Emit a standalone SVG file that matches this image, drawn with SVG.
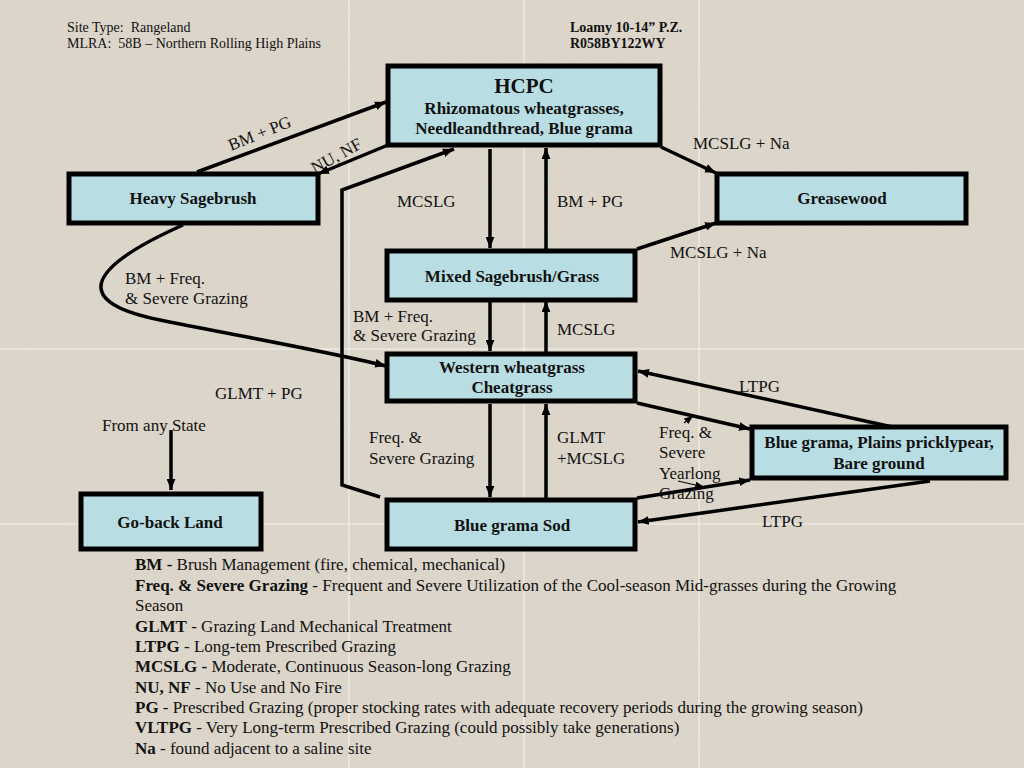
<svg xmlns="http://www.w3.org/2000/svg" width="1024" height="768" viewBox="0 0 1024 768">
<defs>
<style>
.bg{fill:#ddd6cb}
.grid{stroke:#ffffff;stroke-width:1;opacity:0.7}
.box{fill:#b8dee3;stroke:#000;stroke-width:5}
.bt{font-family:"Liberation Serif","Times New Roman",serif;font-weight:bold;font-size:17px;fill:#111;text-anchor:middle}
.lbl{font-family:"Liberation Serif","Times New Roman",serif;font-size:17px;fill:#111}
.hdr{font-family:"Liberation Serif","Times New Roman",serif;font-size:14px;fill:#111;white-space:pre}
.hdrb{font-family:"Liberation Serif","Times New Roman",serif;font-size:14px;font-weight:bold;fill:#111}
.leg{font-family:"Liberation Serif","Times New Roman",serif;font-size:17px;fill:#111}
.leg tspan.b{font-weight:bold}
.c{fill:none;stroke:#000;stroke-width:3.5}
.cs{fill:none;stroke:#000;stroke-width:1.2}
</style>
<filter id="speckle" x="0" y="0" width="100%" height="100%">
<feTurbulence type="fractalNoise" baseFrequency="0.9" numOctaves="2" seed="7" result="n"/>
<feColorMatrix in="n" type="matrix" values="0 0 0 0 0.55  0 0 0 0 0.5  0 0 0 0 0.44  0 0 0 -2.2 1.25"/>
</filter>
<marker id="arr" viewBox="0 0 10 8" refX="10" refY="4" markerWidth="11" markerHeight="9" markerUnits="userSpaceOnUse" orient="auto">
<path d="M0,0 L10,4 L0,8 z" fill="#000"/>
</marker>
<marker id="arrs" viewBox="0 0 10 8" refX="10" refY="4" markerWidth="9" markerHeight="7" markerUnits="userSpaceOnUse" orient="auto">
<path d="M0,0 L10,4 L0,8 z" fill="#000"/>
</marker>
</defs>
<rect class="bg" x="0" y="0" width="1024" height="768"/>
<rect x="0" y="0" width="1024" height="768" filter="url(#speckle)" opacity="0.18"/>
<g id="grid">
<line class="grid" x1="349" y1="0" x2="349" y2="768"/>
<line class="grid" x1="524" y1="0" x2="524" y2="768"/>
<line class="grid" x1="699" y1="0" x2="699" y2="768"/>
<line class="grid" x1="0" y1="349" x2="1024" y2="349"/>
<line class="grid" x1="0" y1="524" x2="1024" y2="524"/>
</g>
<g id="header">
<text class="hdr" x="67" y="32" xml:space="preserve">Site Type:  Rangeland</text>
<text class="hdr" x="67" y="48" xml:space="preserve">MLRA:  58B – Northern Rolling High Plains</text>
<text class="hdrb" x="570" y="32">Loamy 10-14” P.Z.</text>
<text class="hdrb" x="570" y="48">R058BY122WY</text>
</g>
<g id="connectors">
<line class="c" x1="197" y1="172" x2="386" y2="102" marker-end="url(#arr)"/>
<line class="c" x1="388" y1="145" x2="318" y2="174" marker-end="url(#arr)"/>
<polyline class="c" points="380,497 342,485 342,190 454,149" marker-end="url(#arr)"/>
<line class="c" x1="490" y1="149" x2="490" y2="248" marker-end="url(#arr)"/>
<line class="c" x1="546" y1="249" x2="546" y2="148" marker-end="url(#arr)"/>
<line class="c" x1="661" y1="147" x2="716" y2="173" marker-end="url(#arr)"/>
<line class="c" x1="637" y1="249" x2="716" y2="223" marker-end="url(#arr)"/>
<path class="c" d="M183,225 C100,262 60,300 160,320 S330,352 386,366" marker-end="url(#arr)"/>
<line class="c" x1="490" y1="302" x2="490" y2="351" marker-end="url(#arr)"/>
<line class="c" x1="546" y1="352" x2="546" y2="301" marker-end="url(#arr)"/>
<line class="c" x1="490" y1="404" x2="490" y2="497" marker-end="url(#arr)"/>
<line class="c" x1="546" y1="498" x2="546" y2="404" marker-end="url(#arr)"/>
<line class="c" x1="637" y1="403" x2="750" y2="429" marker-end="url(#arr)"/>
<line class="cs" x1="684" y1="423" x2="693" y2="416" marker-end="url(#arrs)"/>
<line class="c" x1="897" y1="428" x2="638" y2="371" marker-end="url(#arr)"/>
<line class="c" x1="637" y1="498" x2="750" y2="480" marker-end="url(#arr)"/>
<line class="cs" x1="678" y1="481" x2="704" y2="487" marker-end="url(#arrs)"/>
<line class="c" x1="930" y1="481" x2="638" y2="522" marker-end="url(#arr)"/>
<line class="c" x1="171" y1="430" x2="171" y2="490" marker-end="url(#arr)"/>
</g>
<g id="labels">
<text class="lbl" transform="translate(231,151) rotate(-22)">BM + PG</text>
<text class="lbl" transform="translate(315,174) rotate(-29)">NU, NF</text>
<text class="lbl" x="397" y="207">MCSLG</text>
<text class="lbl" x="557" y="207">BM + PG</text>
<text class="lbl" x="693" y="149">MCSLG + Na</text>
<text class="lbl" x="670" y="258">MCSLG + Na</text>
<text class="lbl" x="125" y="284">BM + Freq.</text>
<text class="lbl" x="125" y="304">&amp; Severe Grazing</text>
<text class="lbl" x="353" y="322">BM + Freq.</text>
<text class="lbl" x="353" y="341">&amp; Severe Grazing</text>
<text class="lbl" x="557" y="335">MCSLG</text>
<text class="lbl" x="215" y="399">GLMT + PG</text>
<text class="lbl" x="102" y="431">From any State</text>
<text class="lbl" x="369" y="443">Freq. &amp;</text>
<text class="lbl" x="369" y="464">Severe Grazing</text>
<text class="lbl" x="557" y="443">GLMT</text>
<text class="lbl" x="557" y="464">+MCSLG</text>
<text class="lbl" x="659" y="438">Freq. &amp;</text>
<text class="lbl" x="659" y="458">Severe</text>
<text class="lbl" x="659" y="479">Yearlong</text>
<text class="lbl" x="659" y="499">Grazing</text>
<text class="lbl" x="739" y="392">LTPG</text>
<text class="lbl" x="762" y="527">LTPG</text>
</g>
<g id="n-hcpc">
<rect class="box" x="388" y="66" width="272" height="79"/>
<text class="bt" x="524" y="93" style="font-size:21px">HCPC</text>
<text class="bt" x="524" y="114">Rhizomatous wheatgrasses,</text>
<text class="bt" x="524" y="134">Needleandthread, Blue grama</text>
</g>
<g id="n-heavy">
<rect class="box" x="69" y="174" width="249" height="49"/>
<text class="bt" x="193" y="204">Heavy Sagebrush</text>
</g>
<g id="n-greasewood">
<rect class="box" x="717" y="174" width="249" height="49"/>
<text class="bt" x="842" y="204">Greasewood</text>
</g>
<g id="n-mixed">
<rect class="box" x="387" y="251" width="248" height="49"/>
<text class="bt" x="512" y="282">Mixed Sagebrush/Grass</text>
</g>
<g id="n-western">
<rect class="box" x="387" y="354" width="248" height="47"/>
<text class="bt" x="512" y="373">Western wheatgrass</text>
<text class="bt" x="512" y="393">Cheatgrass</text>
</g>
<g id="n-sod">
<rect class="box" x="387" y="500" width="248" height="49"/>
<text class="bt" x="512" y="531">Blue grama Sod</text>
</g>
<g id="n-bluepp">
<rect class="box" x="752" y="427" width="254" height="51"/>
<text class="bt" x="879" y="448">Blue grama, Plains pricklypear,</text>
<text class="bt" x="879" y="469">Bare ground</text>
</g>
<g id="n-goback">
<rect class="box" x="81" y="494" width="180" height="55"/>
<text class="bt" x="170" y="528">Go-back Land</text>
</g>
<g id="legend">
<text class="leg" x="135" y="570"><tspan class="b">BM - </tspan>Brush Management (fire, chemical, mechanical)</text>
<text class="leg" x="135" y="591"><tspan class="b">Freq. &amp; Severe Grazing</tspan> - Frequent and Severe Utilization of the Cool-season Mid-grasses during the Growing</text>
<text class="leg" x="135" y="611">Season</text>
<text class="leg" x="135" y="632"><tspan class="b">GLMT</tspan> - Grazing Land Mechanical Treatment</text>
<text class="leg" x="135" y="652"><tspan class="b">LTPG</tspan> - Long-tem Prescribed Grazing</text>
<text class="leg" x="135" y="672"><tspan class="b">MCSLG - </tspan>Moderate, Continuous Season-long Grazing</text>
<text class="leg" x="135" y="693"><tspan class="b">NU, NF</tspan> - No Use and No Fire</text>
<text class="leg" x="135" y="713"><tspan class="b">PG</tspan> - Prescribed Grazing (proper stocking rates with adequate recovery periods during the growing season)</text>
<text class="leg" x="135" y="733"><tspan class="b">VLTPG</tspan> - Very Long-term Prescribed Grazing (could possibly take generations)</text>
<text class="leg" x="135" y="754"><tspan class="b">Na</tspan> - found adjacent to a saline site</text>
</g>
</svg>
